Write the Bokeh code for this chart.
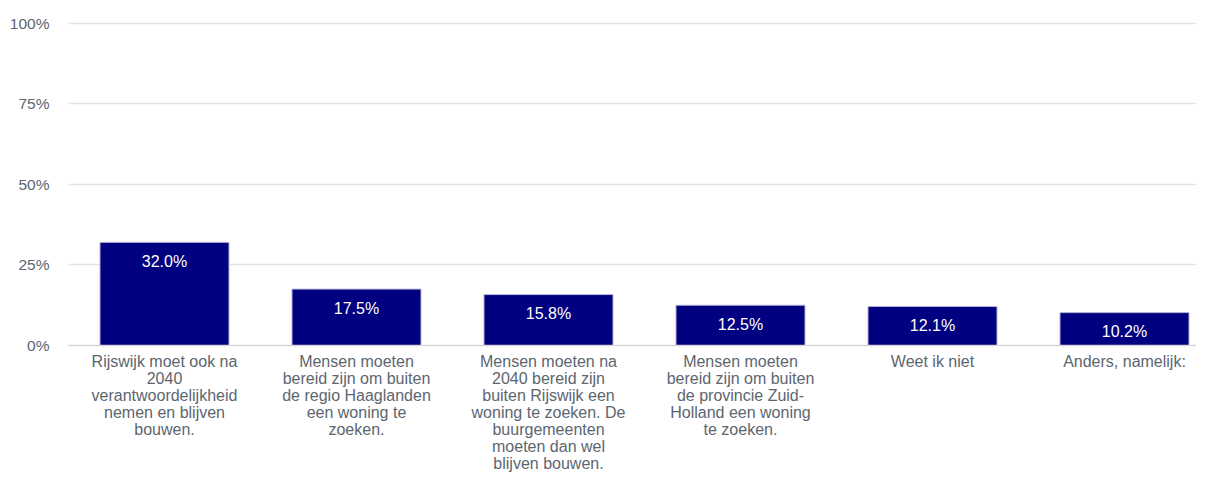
from bokeh.plotting import figure
from bokeh.models import ColumnDataSource, LabelSet, Range1d, FixedTicker, CustomJSTickFormatter
from bokeh.core.properties import value
from bokeh.embed import file_html
from bokeh.resources import INLINE

categories = [
    "Rijswijk moet ook na\n2040\nverantwoordelijkheid\nnemen en blijven\nbouwen.",
    "Mensen moeten\nbereid zijn om buiten\nde regio Haaglanden\neen woning te\nzoeken.",
    "Mensen moeten na\n2040 bereid zijn\nbuiten Rijswijk een\nwoning te zoeken. De\nbuurgemeenten\nmoeten dan wel\nblijven bouwen.",
    "Mensen moeten\nbereid zijn om buiten\nde provincie Zuid-\nHolland een woning\nte zoeken.",
    "Weet ik niet",
    "Anders, namelijk:",
]
values = [32.0, 17.5, 15.8, 12.5, 12.1, 10.2]
y_ticks = [0, 25, 50, 75, 100]

FONT = "Liberation Sans"
TEXT_COLOR = "#5c6670"

xpos = [i + 0.5 for i in range(len(categories))]

source = ColumnDataSource(dict(
    x=xpos,
    val=values,
    lab=[f"{v:.1f}%" for v in values],
))

p = figure(
    x_range=Range1d(0, 5.875),
    y_range=Range1d(0, 100.5),
    width=1196, height=474,
    output_backend="svg", toolbar_location=None,
    min_border_left=68, min_border_right=0,
    min_border_top=21, min_border_bottom=126,
)
p.outline_line_color = None
p.background_fill_color = "white"

p.vbar(x="x", top="val", width=0.672, source=source,
       fill_color="#000080", line_color="#b8b8dc", line_width=1)

labels = LabelSet(x="x", y="val", text="lab", source=source,
                  y_offset=-19, text_align="center", text_baseline="middle",
                  text_color="white", text_font_size="16px",
                  text_font=value(FONT))
p.add_layout(labels)

# grid
p.xgrid.grid_line_color = None
p.ygrid.grid_line_color = "#e3e3e3"
p.ygrid.grid_line_width = 1.5

# y axis
p.yaxis.ticker = FixedTicker(ticks=y_ticks)
p.yaxis.formatter = CustomJSTickFormatter(code="return tick + '%';")
p.yaxis.axis_line_color = None
p.yaxis.major_tick_line_color = None
p.yaxis.minor_tick_line_color = None
p.yaxis.major_tick_out = 0
p.yaxis.major_tick_in = 0
p.yaxis.major_label_standoff = 19
p.yaxis.major_label_text_font = FONT
p.yaxis.major_label_text_font_size = "15.5px"
p.yaxis.major_label_text_color = TEXT_COLOR
p.yaxis.major_label_text_baseline = "alphabetic"

# x axis
p.xaxis.ticker = FixedTicker(ticks=xpos)
p.xaxis.major_label_overrides = {x: c for x, c in zip(xpos, categories)}
p.xaxis.axis_line_color = "#d6d6d6"
p.xaxis.axis_line_width = 1.5
p.xaxis.major_tick_line_color = None
p.xaxis.minor_tick_line_color = None
p.xaxis.major_tick_out = 0
p.xaxis.major_tick_in = 0
p.xaxis.major_label_standoff = 7
p.xaxis.major_label_text_font = FONT
p.xaxis.major_label_text_font_size = "16px"
p.xaxis.major_label_text_color = TEXT_COLOR
p.xaxis.major_label_text_line_height = 1.0
p.xaxis.major_label_orientation = "horizontal"

open("out.html", "w").write(file_html(p, INLINE))
